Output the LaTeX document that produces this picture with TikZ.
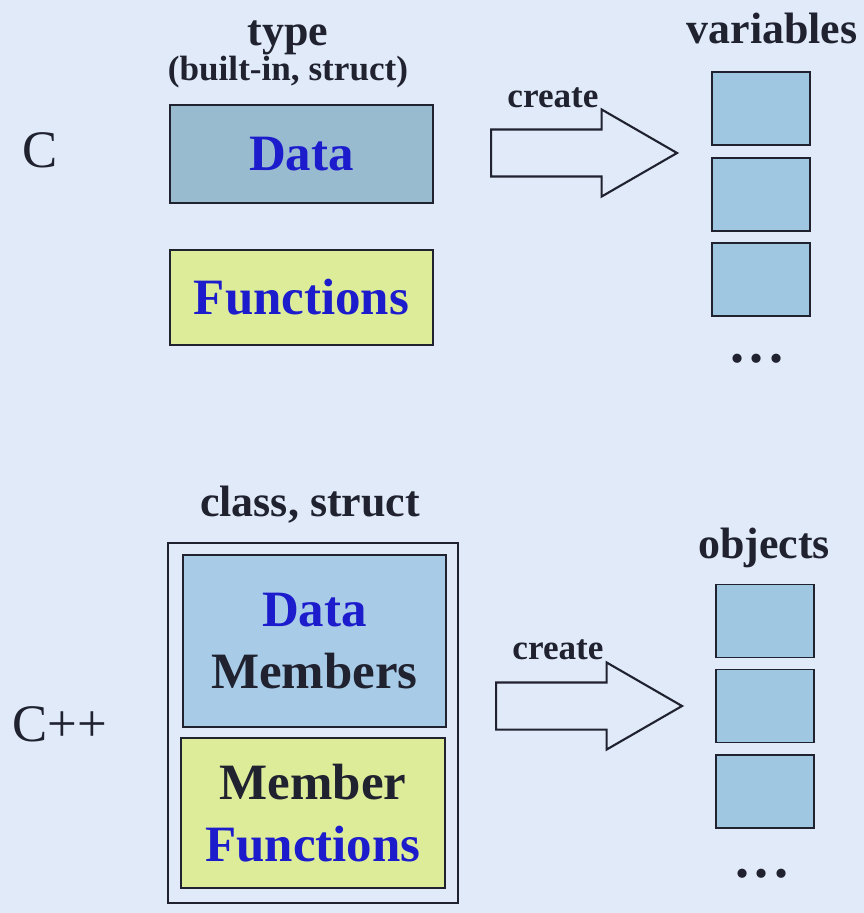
\documentclass[tikz,border=0pt]{standalone}
\usepackage{fontspec}
\setmainfont{Liberation Serif}
\usepackage{tikz}
\usetikzlibrary{positioning,shapes.arrows}

\definecolor{slidebg}{RGB}{224,234,249}
\definecolor{datafill}{RGB}{152,187,208}
\definecolor{memfill}{RGB}{168,204,232}
\definecolor{varfill}{RGB}{160,199,225}
\definecolor{funfill}{RGB}{221,236,152}
\definecolor{txtblue}{RGB}{28,28,205}
\definecolor{edge}{RGB}{32,34,48}

\begin{document}
\begin{tikzpicture}[
  x=0.02cm, y=-0.02cm,
  every node/.style={font=\bfseries, text=edge, inner sep=1pt},
  box/.style={draw=edge, line width=1.1pt, rectangle, minimum width=5.26cm},
  bigtext/.style={font=\fontsize{29}{35}\selectfont\bfseries, align=center},
  heading/.style={font=\fontsize{25}{28}\selectfont\bfseries},
  lang/.style={font=\fontsize{30}{32}\selectfont},
  cell/.style={draw=edge, line width=1.1pt, fill=varfill, minimum width=1.96cm, minimum height=1.46cm},
  createarrow/.style={single arrow, draw=edge, line width=1.2pt, fill=slidebg, anchor=tail,
    minimum height=3.72cm, inner xsep=0pt, inner ysep=0.45cm,
    single arrow head extend=0.4cm, single arrow tip angle=60},
  dots/.style={font=\fontsize{32}{32}\selectfont\bfseries}
]
\useasboundingbox[fill=slidebg] (0,0) rectangle (864,913);

% C: data and functions apart
\node[lang] (c) at (40,150) {C};
\node[box, fill=datafill, minimum height=1.96cm, bigtext, text=txtblue] (data) at (301.5,154) {Data};
\node[box, fill=funfill, minimum height=1.9cm, bigtext, text=txtblue] (funcs) at (301.5,297.5) {Functions};
\node[font=\fontsize{20}{22}\selectfont\bfseries] (builtin) at (288,72) {(built-in, struct)};
\node[heading, above=-2pt of builtin] (type) {type};

\node[createarrow] (arr1) at (490,153) {};
\node[font=\fontsize{20}{22}\selectfont\bfseries] (create1) at (553,98) {create};

\node[heading] (vars) at (772,28) {variables};
\node[cell] (v1) at (761,108.5) {};
\node[cell] (v2) at (761,194.5) {};
\node[cell] (v3) at (761,279.5) {};
\node[dots] (vdots) at (757,359) {.\kern3pt.\kern3pt.};

% C++: data and functions together in a class
\node[lang] (cpp) at (60,724) {C++};
\node[box, minimum width=5.8cm, minimum height=7.2cm] (cls) at (313,723) {};
\node[heading] (clsname) at (310,505) {class, struct};
\node[box, fill=memfill, minimum height=3.44cm, bigtext] (dmem) at (314.5,641) {{\color{txtblue}Data}\\Members};
\node[box, fill=funfill, minimum width=5.28cm, minimum height=3cm, bigtext] (mfun) at (313,813) {Member\\{\color{txtblue}Functions}};

\node[createarrow] (arr2) at (495,706) {};
\node[font=\fontsize{20}{22}\selectfont\bfseries] (create2) at (558,650) {create};

\node[heading] (objs) at (764,548) {objects};
\node[cell] (o1) at (765,621) {};
\node[cell] (o2) at (765,706) {};
\node[cell] (o3) at (765,791.5) {};
\node[dots] (odots) at (762,874) {.\kern3pt.\kern3pt.};
\end{tikzpicture}
\end{document}
